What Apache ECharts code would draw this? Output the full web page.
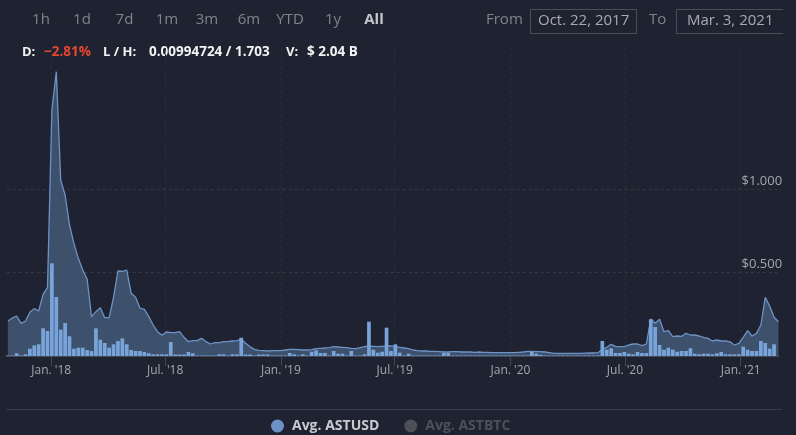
<!DOCTYPE html>
<html>
<head>
<meta charset="utf-8">
<script src="https://cdn.jsdelivr.net/npm/echarts@6/dist/echarts.min.js"></script>
<style>
html,body{margin:0;padding:0;background:#1f2331;}
#c{width:796px;height:435px;}
</style>
</head>
<body>
<div id="c"></div>
<script>
// ---- data (weekly, starting 2017-10-24) ----
const startDate = Date.UTC(2017, 9, 24);
const priceUSD = [
0.21,0.228,0.24,0.196,0.21,0.262,0.284,0.27,0.37,0.41,
1.476,1.706,1.056,0.966,0.786,0.676,0.586,0.516,0.462,0.236,
0.266,0.29,0.23,0.23,0.352,0.51,0.508,0.516,0.376,0.352,
0.288,0.28,0.236,0.186,0.146,0.124,0.144,0.14,0.14,0.146,
0.112,0.086,0.092,0.092,0.106,0.086,0.072,0.08,0.08,0.086,
0.086,0.09,0.092,0.1,0.076,0.055,0.04,0.034,0.032,0.03,
0.032,0.032,0.032,0.036,0.04,0.04,0.038,0.036,0.036,0.038,
0.044,0.046,0.048,0.05,0.056,0.054,0.052,0.05,0.046,0.044,
0.05,0.056,0.06,0.058,0.056,0.058,0.06,0.06,0.056,0.052,
0.048,0.044,0.036,0.032,0.03,0.03,0.028,0.028,0.026,0.024,
0.024,0.026,0.026,0.024,0.024,0.024,0.022,0.024,0.022,0.022,
0.02,0.02,0.02,0.02,0.02,0.02,0.022,0.024,0.028,0.028,
0.026,0.026,0.024,0.02,0.016,0.016,0.015,0.016,0.016,0.016,
0.016,0.017,0.018,0.018,0.02,0.04,0.052,0.07,0.058,0.056,
0.056,0.066,0.072,0.072,0.062,0.072,0.222,0.196,0.22,0.146,
0.152,0.116,0.12,0.118,0.136,0.126,0.126,0.12,0.112,0.106,
0.09,0.096,0.09,0.09,0.085,0.066,0.076,0.112,0.152,0.12,
0.136,0.186,0.352,0.3,0.232,0.206
];
// relative weekly volume
const volume = [
0.5,0.5,2.7,0.5,1.7,7.3,10.7,11.7,27.7,25,
92.7,59,26.3,33,19.7,7.3,8.3,8.3,6,5,
27.7,16.3,13,8.3,11.7,15,17.7,11.7,6,5,
5,4,2.7,1.7,1.7,1.7,1.7,14,1.5,1.5,
1.5,4,2.7,0.5,0.5,0.5,0.5,0.5,1.7,1.7,
0.5,1.7,1.7,18.3,1.5,1.5,0.5,1.5,1.5,1.5,
0.5,0.5,0.5,0.5,3,1.7,0.5,1.7,0.5,4.3,
5.7,3,3,0.5,5,2.3,2.3,0.5,5,0.5,
0.5,1.7,34.3,6.3,3.3,4.3,28.3,5,11.7,3.3,
0.5,2.3,0.5,0.5,0.5,0.5,0.5,0.5,0.5,3,
3,0.5,0.5,0.5,0.5,0.5,0.5,0.5,0.5,0.5,
0.5,0.5,0.5,0.5,0.5,0.5,0.5,0.5,0.5,4,
2.3,1.2,0.5,0.5,0.5,0.5,0.5,0.5,0.5,0.5,
0.5,0.5,0.5,0.5,0.5,15,6.3,7.7,3,3,
4,2.3,1.7,4,3,3,36.7,29,11,6.3,
8.3,6.3,4.3,5,5,7.7,2.3,1.7,2.3,2.3,
1.7,2.7,4,1.7,1.7,1.7,1.7,9.3,6.3,5,
5,15,13,7.3,11.7,0
];
const xTickDates = [Date.UTC(2018,0,1),Date.UTC(2018,6,1),Date.UTC(2019,0,1),Date.UTC(2019,6,1),Date.UTC(2020,0,1),Date.UTC(2020,6,1),Date.UTC(2021,0,1)];
const yTicks = [0, 0.5, 1, 1.5];
const yLabels = [0.5, 1];
const rangeButtons = ['1h','1d','7d','1m','3m','6m','YTD','1y','All'];
const fromText = 'Oct. 22, 2017', toText = 'Mar. 3, 2021';
const infoD = '\u22122.81%', infoLH = '0.00994724 / 1.703', infoV = '$ 2.04 B';

const DAY = 86400000;
const priceData = priceUSD.map((v,i)=>[startDate + i*7*DAY, v]);
const volData = volume.map((v,i)=>[startDate + i*7*DAY, v]);
const months = ['Jan.','Feb.','Mar.','Apr.','May','Jun.','Jul.','Aug.','Sep.','Oct.','Nov.','Dec.'];

const FONT = 'Open Sans';
const btnX = [41,82,124.5,167,207,249,290,333,374];
const graphics = [];
rangeButtons.forEach((t,i)=>{
  graphics.push({type:'text', x:btnX[i], y:20, style:{text:t, fill: t==='All' ? '#c4c6cc' : '#80838b', font: (t==='All'?'bold ':'')+'15px "'+FONT+'"', align:'center', verticalAlign:'middle'}});
});
graphics.push({type:'text', x:486, y:20, style:{text:'From', fill:'#80838b', font:'15px "'+FONT+'"', verticalAlign:'middle'}});
graphics.push({type:'rect', shape:{x:530.5,y:9.5,width:106,height:24}, style:{fill:'none', stroke:'#4a4e58', lineWidth:1}});
graphics.push({type:'text', x:538, y:21, style:{text:fromText, fill:'#a9abb1', font:'15px "'+FONT+'"', verticalAlign:'middle'}});
graphics.push({type:'text', x:649, y:20, style:{text:'To', fill:'#80838b', font:'15px "'+FONT+'"', verticalAlign:'middle'}});
graphics.push({type:'polyline', shape:{points:[[783,9.5],[676.5,9.5],[676.5,33.5],[783,33.5]]}, style:{fill:'none', stroke:'#4a4e58', lineWidth:1}});
graphics.push({type:'text', x:687, y:21, style:{text:toText, fill:'#a9abb1', font:'15px "'+FONT+'"', verticalAlign:'middle'}});
// info line
const infoY = 52;
const LF = 'bold 13px "'+FONT+'"';
const VF = 'bold 13.5px "'+FONT+'"';
graphics.push({type:'text', x:22, y:infoY, style:{text:'D:', fill:'#f2f2f2', font:LF, verticalAlign:'middle'}});
graphics.push({type:'text', x:44, y:infoY, style:{text:infoD, fill:'#e8472f', font:VF, verticalAlign:'middle'}});
graphics.push({type:'text', x:103, y:infoY, style:{text:'L / H:', fill:'#f2f2f2', font:LF, verticalAlign:'middle'}});
graphics.push({type:'text', x:149, y:infoY, style:{text:infoLH, fill:'#f2f2f2', font:VF, verticalAlign:'middle'}});
graphics.push({type:'text', x:286, y:infoY, style:{text:'V:', fill:'#f2f2f2', font:LF, verticalAlign:'middle'}});
graphics.push({type:'text', x:307, y:infoY, style:{text:infoV, fill:'#f2f2f2', font:VF, verticalAlign:'middle'}});
// separator above legend
graphics.push({type:'line', shape:{x1:6,y1:409.5,x2:782,y2:409.5}, style:{stroke:'#3a3e4a', lineWidth:1}});

const chart = echarts.init(document.getElementById('c'), null, {renderer:'canvas'});
chart.setOption({
  backgroundColor:'#1f2331',
  animation:false,
  textStyle:{fontFamily:FONT},
  graphic: graphics,
  grid:{left:6.6, right:16.9, top:48, bottom:79},
  legend:{
    data:['Avg. ASTUSD','Avg. ASTBTC'],
    selected:{'Avg. ASTBTC':false},
    left:266, top:414, itemGap:25, icon:'circle', itemWidth:13, itemHeight:13,
    textStyle:{color:'#c9cbd0', fontSize:14, fontWeight:'bold', fontFamily:FONT, padding:[0,0,0,3]},
    inactiveColor:'#4d5058'
  },
  xAxis:{
    type:'value',
    min:Date.UTC(2017,9,22), max:Date.UTC(2021,2,3),
    axisLine:{show:true, lineStyle:{color:'#434854'}},
    axisTick:{show:true, length:10, customValues:xTickDates, lineStyle:{color:'#434854'}},
    axisLabel:{customValues:xTickDates, color:'#a4a7ae', fontSize:12, margin:9,
      formatter:(v)=>{const d=new Date(v); return months[d.getUTCMonth()]+" '"+String(d.getUTCFullYear()).slice(2);}},
    splitLine:{show:true, lineStyle:{color:'#2a2f3b', type:[3,3]}}
  },
  yAxis:[{
    type:'value', position:'right', min:0, max:1.848, interval:0.5,
    axisLine:{show:false}, axisTick:{show:false, customValues:yTicks},
    axisLabel:{inside:true, customValues:yLabels, margin:-3, color:'#a4a7ae', fontSize:13, verticalAlign:'bottom', padding:[0,0,2,0],
      formatter:(v)=>'$'+v.toFixed(3)},
    splitLine:{show:true, showMaxLine:false, lineStyle:{color:'#343946', type:[3,3]}}
  },{
    type:'value', min:0, max:308, show:false, splitLine:{show:false}
  }],
  series:[
    {name:'Avg. ASTUSD', type:'line', data:priceData, yAxisIndex:0, symbol:'none',
      lineStyle:{color:'#6d93c6', width:1.3}, itemStyle:{color:'#6d93c6'},
      areaStyle:{color:'#3d506c', opacity:1}, z:2},
    {name:'Avg. ASTBTC', type:'line', data:[], symbol:'none', itemStyle:{color:'#777'}, lineStyle:{color:'#777'}},
    {name:'Volume', type:'bar', data:volData, yAxisIndex:1, barWidth:3.7,
      itemStyle:{color:'#79a4d9'}, z:3}
  ]
});
</script>
</body>
</html>
